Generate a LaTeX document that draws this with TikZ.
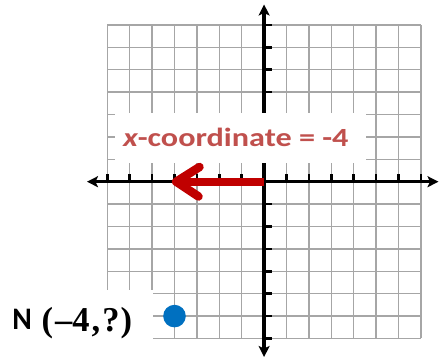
\documentclass[tikz,border=0pt]{standalone}
\usepackage{fontspec}
\usepackage{graphicx}
\newfontfamily\carlitob{Carlito}[UprightFont={* Bold}]
\newfontfamily\carlitobi{Carlito}[UprightFont={* Bold Italic}]
\newfontfamily\serifb{Liberation Serif}[UprightFont={* Bold}]
\usetikzlibrary{arrows.meta}
\definecolor{gridgray}{RGB}{166,166,166}
\definecolor{lblred}{RGB}{192,80,77}
\definecolor{arrred}{RGB}{192,0,0}
\definecolor{ptblue}{RGB}{0,112,192}
\begin{document}
\begin{tikzpicture}[x=1pt,y=-1pt,
  gridline/.style={draw=gridgray,line width=1.3pt},
  tickmark/.style={draw=black,line width=2.6pt},
  axisline/.style={draw=black,line width=3.6pt,
    {Stealth[length=11pt,width=11pt,inset=2.5pt]}-{Stealth[length=11pt,width=11pt,inset=2.5pt]}},
  whitebox/.style={fill=white,draw=none,inner sep=0pt},
  redarrow/.style={draw=arrred,line width=8pt},
]
\useasboundingbox (0,0) rectangle (440,358);
% grid
\foreach \i in {0,...,14}{
  \draw[gridline] ({107.3+22.4*\i},24.9) -- ({107.3+22.4*\i},338.5);
  \draw[gridline] (107.3,{24.9+22.4*\i}) -- (420.9,{24.9+22.4*\i});
}
% ticks
\foreach \i in {0,...,6,8,9,...,14}{
  \draw[tickmark] ({107.3+22.4*\i},181.7) -- ++(0,-7.5);
  \draw[tickmark] (264.1,{24.9+22.4*\i}) -- ++(7.5,0);
}
% axes
\coordinate (xl) at (87,181.7);
\coordinate (xr) at (438.5,181.7);
\coordinate (yt) at (264.1,4.5);
\coordinate (yb) at (264.1,357);
\draw[axisline] (xl) -- (xr);
\draw[axisline] (yb) -- (yt);
% label box
\node[whitebox,minimum width=251pt,minimum height=50pt] (lblbox) at (240.5,138) {};
\node[anchor=base west,inner sep=0pt,text=lblred] (lbl) at (122.8,146.7)
  {\resizebox{225.5pt}{18.4pt}{{\carlitobi x}{\carlitob -coordinate = -4}}};
% red arrow
\coordinate (o) at (264.1,181.7);
\coordinate (t) at (176.2,181.7);
\coordinate (a1) at (199.5,167);
\coordinate (a2) at (198.5,196.5);
\draw[redarrow] (o) -- (t);
\draw[redarrow,line width=8.5pt,line cap=round,line join=round] (a1) -- (t) -- (a2);
% N label
\node[whitebox,minimum width=153pt,minimum height=58pt,anchor=north west] (nbox) at (0,290) {};
\node[anchor=base west,inner sep=0pt] (nname) at (12.2,329.3)
  {\resizebox{19.5pt}{20.3pt}{\carlitob N}};
\node[anchor=north west,inner sep=0pt] (ncoord) at (41.5,306.7)
  {\resizebox*{90.5pt}{31.6pt}{\serifb(\kern.06em–4\kern.06em,\kern.06em?\kern.03em)}};
% point
\node[circle,fill=ptblue,minimum size=22.6pt,inner sep=0pt] (N) at (174.5,316.1) {};
\end{tikzpicture}
\end{document}
